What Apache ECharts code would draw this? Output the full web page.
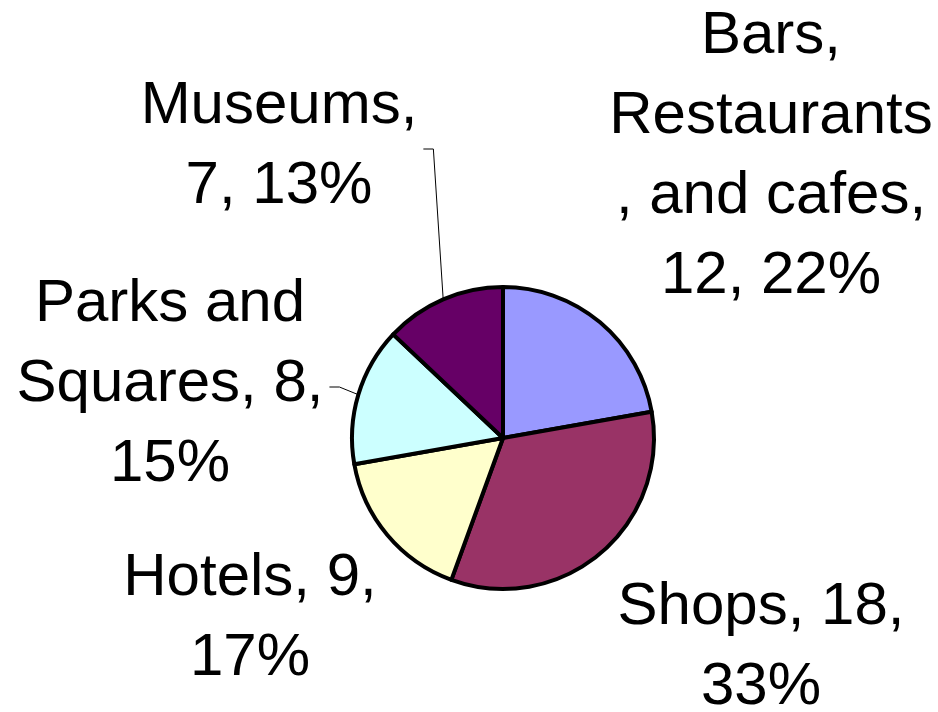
<!DOCTYPE html>
<html>
<head>
<meta charset="utf-8">
<script src="https://cdn.jsdelivr.net/npm/echarts@6/dist/echarts.min.js"></script>
<style>
  html, body { margin: 0; padding: 0; background: #fff; }
  #main { width: 938px; height: 712px; }
</style>
</head>
<body>
<div id="main"></div>
<script>
// 数据
const categories = ['Bars, Restaurants, and cafes', 'Shops', 'Hotels', 'Parks and Squares', 'Museums'];
const counts = [12, 18, 9, 8, 7];
const labelTemplates = [
    'Bars,\nRestaurants\n, and cafes,\n{c}, {d}%',
    'Shops, {c},\n{d}%',
    'Hotels, {c},\n{d}%',
    'Parks and\nSquares, {c},\n{d}%',
    'Museums,\n{c}, {d}%'
];
const sliceColors = ['#9999FF', '#993366', '#FFFFCC', '#CCFFFF', '#660066'];
// 标签中心位置
const labelCenters = [[771, 156], [761, 647], [250, 618], [170, 384], [279, 146]];
const withLeader = [false, false, false, true, true];

const labelFont = '60px "Liberation Sans", Arial, sans-serif';
const measureCtx = document.createElement('canvas').getContext('2d');

// 最宽一行的宽度
function textWidth(text) {
    measureCtx.font = labelFont;
    return Math.max.apply(null, String(text).split('\n').map(s => measureCtx.measureText(s).width));
}

const chart = echarts.init(document.getElementById('main'));

const pieData = categories.map((name, i) => ({
    name: name,
    value: counts[i],
    itemStyle: { color: sliceColors[i] },
    label: { formatter: labelTemplates[i] },
    labelLine: { show: withLeader[i] }
}));

chart.setOption({
    animation: false,
    backgroundColor: '#fff',
    series: [{
        type: 'pie',
        center: [503, 438],
        radius: 151,
        startAngle: 90,
        clockwise: true,
        percentPrecision: 0,
        avoidLabelOverlap: false,
        itemStyle: { borderColor: '#000', borderWidth: 4 },
        label: {
            show: true,
            position: 'outside',
            color: '#000',
            fontFamily: '"Liberation Sans", Arial, sans-serif',
            fontSize: 60,
            lineHeight: 80,
            width: 380,
            overflow: 'none',
            align: 'center'
        },
        labelLine: {
            show: true,
            length: 10,
            length2: 10,
            lineStyle: { color: '#000', width: 1 }
        },
        labelLayout: function (params) {
            const i = params.dataIndex;
            const c = labelCenters[i];
            const out = { x: c[0], y: c[1], align: 'center', verticalAlign: 'middle' };
            if (withLeader[i] && params.labelLinePoints) {
                const edge = params.labelLinePoints[0];
                const endX = c[0] + textWidth(params.text) / 2 + 6;
                const lineY = c[1] + 3;
                out.labelLinePoints = [edge, [endX + 10, lineY], [endX, lineY]];
            }
            return out;
        },
        emphasis: { disabled: true },
        data: pieData
    }]
});
</script>
</body>
</html>
